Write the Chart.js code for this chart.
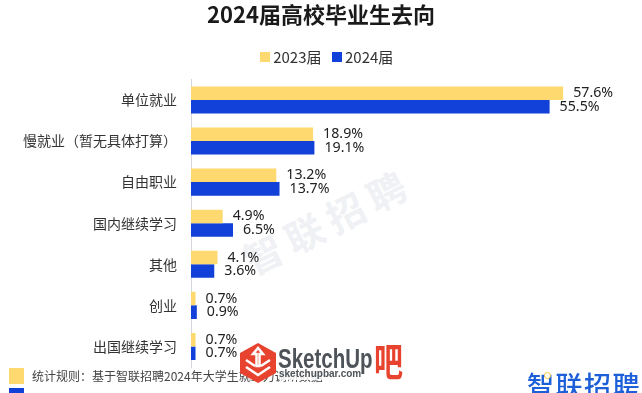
<!DOCTYPE html>
<html><head><meta charset="utf-8">
<style>
html,body{margin:0;padding:0;background:#fff;overflow:hidden}
#wrap{position:relative;width:642px;height:393px;overflow:hidden;background:#fff}
canvas{position:absolute;left:0;top:0}
.t{position:absolute;white-space:nowrap;font-family:"Noto Sans CJK SC",sans-serif}
.b{position:absolute}
</style></head><body>
<div id="wrap">
<div class="t" style="left:246px;top:242px;line-height:40px;font-size:38px;font-weight:700;color:#eff1f4;transform:rotate(-27deg);transform-origin:left center;letter-spacing:8px">智联招聘</div>
<canvas id="c" width="642" height="393"></canvas>
<div class="b" style="left:9px;top:368px;width:15px;height:16px;background:#fdd96f"></div>
<div class="b" style="left:9px;top:388px;width:15px;height:5px;background:#1141d8"></div>
<div class="t" style="left:32px;top:368px;font-size:12px;line-height:16px;color:#444">统计规则&#xFF1A;基于智联招聘2024年大学生就业力调研数据</div>
<div class="t" style="left:527px;top:365px;font-size:27px;font-weight:500;color:#1c5fd8;letter-spacing:1.5px">智联招聘</div>
<div class="b" style="left:544px;top:372px;width:5px;height:5px;border-radius:50%;border:1.5px solid #f5c93a;background:#fff"></div>
<svg class="b" style="left:240px;top:343px" width="36" height="40" viewBox="0 0 36 40"><polygon points="18,0 36,10 36,30 18,40 0,30 0,10" fill="#e8432f"/><path d="M18 5l-5 6h3.5v12h3V11H23zM6 17l9 6M30 17l-9 6M6 24l12 8 12-8" stroke="#fff" stroke-width="2.5" fill="none"/></svg>
<div class="t" style="left:278px;top:344px;font-size:27px;line-height:30px;font-weight:700;color:#4d5358;font-family:'Liberation Sans',sans-serif;transform:scaleX(.76);transform-origin:left top">SketchUp</div>
<div class="t" style="left:374px;top:338px;font-size:29px;line-height:30px;font-weight:700;color:#e8432f;transform:scaleY(1.35);transform-origin:left top">吧</div>
<div class="t" style="left:279px;top:368px;font-size:10px;line-height:12px;font-weight:700;color:#4d5358;background:rgba(255,255,255,.85);font-family:'Liberation Sans',sans-serif">sketchupbar.com</div>
</div>
<script src="https://cdn.jsdelivr.net/npm/chart.js@4/dist/chart.umd.min.js"></script>
<script>
const categories=["单位就业","慢就业\uFF08暂无具体打算\uFF09","自由职业","国内继续学习","其他","创业","出国继续学习"];
const seriesNames=["2023届","2024届"];
const values2023=[57.6,18.9,13.2,4.9,4.1,0.7,0.7];
const values2024=[55.5,19.1,13.7,6.5,3.6,0.9,0.7];
const titleText="2024届高校毕业生去向";
const colors=['#fdd96f','#1141d8'];
const CJK='"Noto Sans CJK SC",sans-serif';
function swatch(color){const k=document.createElement('canvas');k.width=10;k.height=10;const g=k.getContext('2d');g.fillStyle=color;g.fillRect(0,0,10,10);return k;}
const endLabels={id:'endLabels',afterDatasetsDraw(ch){
  const g=ch.ctx;g.save();g.font='14.2px "Noto Sans",sans-serif';g.fillStyle='#222';g.textBaseline='middle';g.textAlign='left';
  ch.data.datasets.forEach((d,i)=>{ch.getDatasetMeta(i).data.forEach((el,j)=>{
    g.fillText(d.data[j].toFixed(1)+'%',el.x+10,el.y);
  });});
  g.restore();
}};
const legendNudge={id:'legendNudge',afterLayout(ch){ch.legend.left+=8;ch.legend.right+=8;}};
new Chart(document.getElementById('c'),{
 type:'bar',
 data:{labels:categories,datasets:[
  {label:seriesNames[0],data:values2023,backgroundColor:colors[0]},
  {label:seriesNames[1],data:values2024,backgroundColor:colors[1]}]},
 options:{indexAxis:'y',responsive:false,animation:false,
  layout:{padding:{left:0,right:0,top:1,bottom:26}},
  datasets:{bar:{categoryPercentage:0.66,barPercentage:1}},
  plugins:{
   tooltip:{enabled:false},
   title:{display:true,text:titleText,color:'#1a1a1a',font:{family:CJK,size:22,weight:'700'},padding:{top:0,bottom:7}},
   legend:{display:true,position:'top',align:'center',labels:{usePointStyle:true,boxWidth:1,boxHeight:10,color:'#333',padding:15,font:{family:CJK,size:15},
     generateLabels(ch){return Chart.defaults.plugins.legend.labels.generateLabels(ch).map((l,i)=>({...l,pointStyle:swatch(colors[i])}));}}}
  },
  scales:{
   x:{position:'top',display:true,min:0,max:69.8,grid:{display:false,drawTicks:false},border:{display:false},ticks:{display:false},afterFit(s){s.height=5;}},
   y:{afterFit(s){s.width=191;},grid:{display:false,drawTicks:false},border:{display:true,color:'#d4d8de',width:1},
      ticks:{color:'#333',padding:14,font:{family:CJK,size:14}}}
  }},
 plugins:[endLabels,legendNudge]
});
</script>
</body></html>
